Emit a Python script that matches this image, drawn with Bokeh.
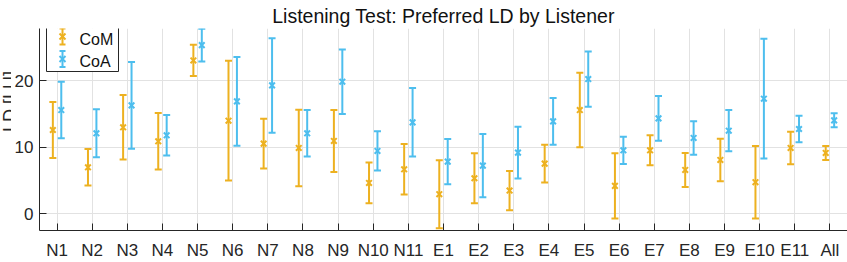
import numpy as np
from bokeh.plotting import figure
from bokeh.layouts import row
from bokeh.models import ColumnDataSource, FixedTicker, Label, PolyAnnotation, Range1d
from bokeh.embed import file_html
from bokeh.resources import INLINE

# Preferred loudness difference per listener (mean and half-width of error bar)
listeners = ["N1", "N2", "N3", "N4", "N5", "N6", "N7", "N8", "N9", "N10", "N11",
             "E1", "E2", "E3", "E4", "E5", "E6", "E7", "E8", "E9", "E10", "E11", "All"]
com_mean = [12.6, 7.0, 13.0, 10.9, 23.05, 14.0, 10.55, 9.9, 10.95, 4.65, 6.7,
            2.95, 5.35, 3.5, 7.55, 15.6, 4.2, 9.55, 6.6, 8.1, 4.75, 9.9, 9.15]
com_err = [4.2, 2.75, 4.85, 4.25, 2.35, 9.0, 3.75, 5.75, 4.65, 3.05, 3.8,
           5.1, 3.75, 2.95, 2.85, 5.6, 4.9, 2.25, 2.55, 3.2, 5.45, 2.45, 1.05]
coa_mean = [15.6, 12.1, 16.3, 11.8, 25.35, 16.9, 19.3, 12.1, 19.85, 9.45, 13.75,
            7.85, 7.25, 9.2, 13.9, 20.25, 9.55, 14.35, 11.4, 12.5, 17.3, 12.75, 14.05]
coa_err = [4.25, 3.6, 6.5, 3.05, 2.45, 6.65, 7.1, 3.5, 4.85, 2.95, 5.15,
           3.4, 4.75, 3.9, 3.5, 4.15, 2.05, 3.35, 2.5, 3.1, 9.0, 2.0, 1.05]
series_names = ["CoM", "CoA"]
y_ticks = [0, 10, 20]
y_label = "LD [LU]"

COM_COLOR = "#EDB120"
COA_COLOR = "#4DBEEE"
INK = "#262626"
GRID = "#e2e2e2"
FONT = "Liberation Sans"
DODGE = 0.12
TOTAL_W, TOTAL_H = 847, 262
LABEL_STRIP_W = 11

positions = np.arange(1, len(listeners) + 1)

# narrow strip on the left holding the vertical axis label (cut by the page edge)
strip = figure(width=LABEL_STRIP_W, height=TOTAL_H, output_backend="svg",
               toolbar_location=None, title=None,
               x_range=Range1d(0, 1), y_range=Range1d(0, 1),
               min_border=0)
strip.axis.visible = False
strip.grid.visible = False
strip.outline_line_color = None
strip.add_layout(Label(x=9, y=129, x_units="screen", y_units="screen",
                       angle=np.pi / 2, text=y_label, text_align="center",
                       text_baseline="alphabetic", text_font=FONT,
                       text_font_size="18px", text_color=INK))

p = figure(width=TOTAL_W - LABEL_STRIP_W, height=TOTAL_H, output_backend="svg",
           toolbar_location=None,
           x_range=Range1d(0.5, len(listeners) + 0.5),
           y_range=Range1d(-2.5, 27.85),
           min_border_left=38 - LABEL_STRIP_W, min_border_right=0,
           min_border_top=28, min_border_bottom=29)
p.outline_line_color = None
p.background_fill_color = "white"

p.title.text = "Listening Test: Preferred LD by Listener"
p.title.align = "center"
p.title.text_font = FONT
p.title.text_font_size = "19.5px"
p.title.text_font_style = "normal"
p.title.text_color = "#111111"
p.title.standoff = 4

# axes styling: ticks pointing inward, no minor ticks
p.xaxis.ticker = FixedTicker(ticks=list(positions))
p.xaxis.major_label_overrides = {int(i): name for i, name in zip(positions, listeners)}
p.yaxis.ticker = FixedTicker(ticks=y_ticks)
for ax in (p.xaxis, p.yaxis):
    ax.axis_line_color = INK
    ax.axis_line_width = 1
    ax.major_tick_line_color = INK
    ax.major_tick_in = 7
    ax.major_tick_out = 0
    ax.minor_tick_line_color = None
    ax.major_label_text_font = FONT
    ax.major_label_text_font_size = "17px"
    ax.major_label_text_color = INK
p.yaxis.major_label_standoff = 6
p.xaxis.major_label_standoff = 10

p.xgrid.ticker = FixedTicker(ticks=list(positions))
p.ygrid.ticker = FixedTicker(ticks=y_ticks)
p.grid.grid_line_color = GRID
p.grid.grid_line_width = 1


def draw_series(xs, mean, err, color):
    mean = np.asarray(mean)
    err = np.asarray(err)
    src = ColumnDataSource(dict(x=xs, mean=mean, lo=mean - err, hi=mean + err))
    p.segment(x0="x", y0="lo", x1="x", y1="hi", source=src,
              line_color=color, line_width=2)
    for key in ("lo", "hi"):
        p.scatter(x="x", y=key, marker="dash", size=7, source=src,
                  line_color=color, line_width=2)
    p.scatter(x="x", y="mean", marker="x", size=8, source=src,
              line_color=color, line_width=2)


draw_series(positions - DODGE, com_mean, com_err, COM_COLOR)
draw_series(positions + DODGE, coa_mean, coa_err, COA_COLOR)


def screen_line(xs, ys, color, width=2):
    p.add_layout(PolyAnnotation(xs=xs, ys=ys, xs_units="screen", ys_units="screen",
                                line_color=color, line_alpha=1, line_width=width,
                                fill_alpha=0))


# legend box in the upper-left corner of the frame
p.add_layout(PolyAnnotation(xs=[7, 79, 79, 7], ys=[159, 159, 206, 206],
                            xs_units="screen", ys_units="screen",
                            fill_color="white", fill_alpha=1,
                            line_color=INK, line_alpha=1, line_width=1))


def legend_entry(cx, cy, color, text):
    screen_line([cx, cx], [cy - 8, cy + 8], color)
    screen_line([cx - 3, cx + 3], [cy + 8, cy + 8], color)
    screen_line([cx - 3, cx + 3], [cy - 8, cy - 8], color)
    screen_line([cx - 3, cx + 3], [cy - 3, cy + 3], color)
    screen_line([cx - 3, cx + 3], [cy + 3, cy - 3], color)
    p.add_layout(Label(x=cx + 17, y=cy - 2.5, x_units="screen", y_units="screen",
                       text=text, text_font=FONT, text_font_size="16px",
                       text_baseline="middle", text_color="#111111"))


legend_entry(23, 194, COM_COLOR, series_names[0])
legend_entry(23, 171.5, COA_COLOR, series_names[1])

layout = row(strip, p, spacing=0)
open("out.html", "w").write(file_html(layout, INLINE))
